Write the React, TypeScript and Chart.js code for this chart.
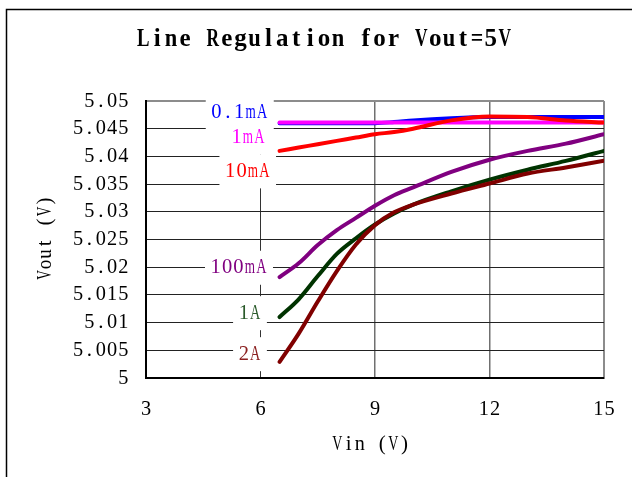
import React, { useEffect, useRef } from "react";
import { Chart, registerables } from "chart.js";
Chart.register(...registerables);

const chartTitle = "Line Regulation for Vout=5V";
const xAxisTitle = "Vin (V)";
const yAxisTitle = "Vout (V)";

const vin = [6.5, 7, 7.5, 8, 8.5, 9, 9.5, 10, 11, 12, 13, 14, 15];
const vout01mA = [5.046, 5.046, 5.046, 5.046, 5.046, 5.046, 5.0462, 5.0465, 5.0469, 5.0471, 5.0471, 5.0471, 5.0471];
const vout1mA = [5.0461, 5.0461, 5.0461, 5.0461, 5.0461, 5.0461, 5.0461, 5.0461, 5.0461, 5.0461, 5.0461, 5.0461, 5.0461];
const vout10mA = [5.041, 5.0416, 5.0422, 5.0428, 5.0434, 5.044, 5.0444, 5.045, 5.0465, 5.0472, 5.0471, 5.0465, 5.0461];
const vout100mA = [5.0182, 5.0207, 5.024, 5.0267, 5.0289, 5.0311, 5.033, 5.0344, 5.0372, 5.0394, 5.041, 5.0423, 5.044];
const vout1A = [5.011, 5.0142, 5.0184, 5.0224, 5.0252, 5.0277, 5.0297, 5.0313, 5.0337, 5.0358, 5.0376, 5.0392, 5.041];
const vout2A = [5.0029, 5.008, 5.0138, 5.0193, 5.0241, 5.0276, 5.0299, 5.0313, 5.0333, 5.0351, 5.0369, 5.038, 5.0392];

const seriesNames = ["0.1mA", "1mA", "10mA", "100mA", "1A", "2A"];
const seriesValues = [vout01mA, vout1mA, vout10mA, vout100mA, vout1A, vout2A];
const seriesColors = ["#0000ff", "#ff00ff", "#ff0000", "#800080", "#003300", "#800000"];
const labelColors = ["#0000ff", "#ff00ff", "#ff0000", "#800080", "#2a5a2a", "#8b2020"];

const xTickLabels = ["3", "6", "9", "12", "15"];
const yTickLabels = ["5", "5.005", "5.01", "5.015", "5.02", "5.025", "5.03", "5.035", "5.04", "5.045", "5.05"];

// label anchors (right edge x, centre y) in data units
const labelX = [6.19, 6.12, 6.25, 6.17, 6.01, 6.01];
const labelY = [5.0479, 5.0434, 5.0373, 5.0199, 5.0117, 5.0043];

const FONT = '"Liberation Serif", "DejaVu Serif", serif';

function drawCells(
  ctx: CanvasRenderingContext2D,
  text: string,
  x: number,
  y: number,
  o: { size: number; cell: number; align: "left" | "right" | "center"; color: string; bold?: boolean; rotate?: boolean }
) {
  ctx.save();
  ctx.font = `${o.bold ? "bold " : ""}${o.size}px ${FONT}`;
  ctx.fillStyle = o.color;
  ctx.textBaseline = "middle";
  ctx.textAlign = "center";
  const total = text.length * o.cell;
  ctx.translate(x, y);
  if (o.rotate) ctx.rotate(-Math.PI / 2);
  const start = o.align === "left" ? 0 : o.align === "right" ? -total : -total / 2;
  for (let i = 0; i < text.length; i++) {
    const ch = text[i];
    if (ch === " ") continue;
    const w = ctx.measureText(ch).width;
    const s = Math.min(1, (o.cell * 0.9) / w);
    ctx.save();
    ctx.translate(start + o.cell * (i + 0.5), 0);
    ctx.scale(s, 1);
    ctx.fillText(ch, 0, 0);
    ctx.restore();
  }
  ctx.restore();
}

const decorPlugin = {
  id: "decor",
  beforeDraw(chart: any) {
    const ctx = chart.ctx as CanvasRenderingContext2D;
    ctx.save();
    ctx.fillStyle = "#ffffff";
    ctx.fillRect(0, 0, chart.width, chart.height);
    ctx.strokeStyle = "#000000";
    ctx.lineWidth = 1.5;
    ctx.strokeRect(6.5, 9.5, 900, 700);
    ctx.restore();
  },
  afterDraw(chart: any) {
    const ctx = chart.ctx as CanvasRenderingContext2D;
    const xs = chart.scales.x;
    const ys = chart.scales.y;
    drawCells(ctx, chartTitle, 324, 40, { size: 25, cell: 13.9, align: "center", color: "#000", bold: true });
    xTickLabels.forEach((t) => {
      drawCells(ctx, t, xs.getPixelForValue(Number(t)), 409, { size: 21, cell: 11.3, align: "center", color: "#000" });
    });
    yTickLabels.forEach((t) => {
      drawCells(ctx, t, 129, ys.getPixelForValue(Number(t)), { size: 21, cell: 11.3, align: "right", color: "#000" });
    });
    drawCells(ctx, xAxisTitle, 371, 444, { size: 21, cell: 11.2, align: "center", color: "#000" });
    drawCells(ctx, yAxisTitle, 45, 238, { size: 21, cell: 10.6, align: "center", color: "#000", rotate: true });
  },
  afterDatasetsDraw(chart: any) {
    const ctx = chart.ctx as CanvasRenderingContext2D;
    const xs = chart.scales.x;
    const ys = chart.scales.y;
    const cell = 11.4;
    seriesNames.forEach((name, i) => {
      const right = xs.getPixelForValue(labelX[i]);
      const cy = ys.getPixelForValue(labelY[i]);
      const left = right - name.length * cell;
      ctx.save();
      ctx.fillStyle = "#ffffff";
      ctx.fillRect(left - 5, cy - 17, right - left + 11, 34);
      ctx.restore();
    });
    seriesNames.forEach((name, i) => {
      const right = xs.getPixelForValue(labelX[i]);
      const cy = ys.getPixelForValue(labelY[i]);
      drawCells(ctx, name, right, cy, { size: 21, cell, align: "right", color: labelColors[i] });
    });
  },
};

export default function App() {
  const ref = useRef<HTMLCanvasElement | null>(null);
  useEffect(() => {
    if (!ref.current) return;
    const datasets = seriesNames
      .map((name, i) => ({
        label: name,
        data: vin.map((x, k) => ({ x, y: seriesValues[i][k] })),
        borderColor: seriesColors[i],
        backgroundColor: seriesColors[i],
        borderWidth: 4,
        pointRadius: 0,
        fill: false,
        cubicInterpolationMode: "monotone" as const,
        borderCapStyle: "round" as const,
        borderJoinStyle: "round" as const,
      }))
      .reverse();
    const chart = new Chart(ref.current, {
      type: "line",
      data: { datasets },
      options: {
        animation: false,
        responsive: false,
        devicePixelRatio: 1,
        layout: { padding: { left: 146, right: 28, top: 101, bottom: 99 } },
        plugins: { legend: { display: false }, title: { display: false }, tooltip: { enabled: false } },
        scales: {
          x: {
            type: "linear",
            min: 3,
            max: 15,
            ticks: { display: false, stepSize: 3 },
            border: { display: true, color: "#000", width: 2 },
            grid: {
              drawTicks: false,
              tickLength: 0,
              color: (c: any) => (c.tick && c.tick.value === 15 ? "#8c8c8c" : c.tick && c.tick.value === 6 ? "#333" : "#707070"),
              lineWidth: (c: any) => (c.tick && c.tick.value === 15 ? 2 : c.tick && c.tick.value === 6 ? 1 : 1.5),
            },
          },
          y: {
            type: "linear",
            min: 5,
            max: 5.05,
            ticks: { display: false, stepSize: 0.005 },
            border: { display: true, color: "#000", width: 2 },
            grid: {
              drawTicks: false,
              tickLength: 0,
              color: (c: any) => (c.tick && Math.abs(c.tick.value - 5.05) < 1e-6 ? "#8c8c8c" : "#222"),
              lineWidth: (c: any) => (c.tick && Math.abs(c.tick.value - 5.05) < 1e-6 ? 2 : 1),
            },
          },
        },
      },
      plugins: [decorPlugin],
    });
    return () => chart.destroy();
  }, []);
  return (
    <div style={{ position: "fixed", left: 0, top: 0, width: 632, height: 477, background: "#fff" }}>
      <canvas ref={ref} width={632} height={477} style={{ display: "block", width: 632, height: 477 }} />
    </div>
  );
}
